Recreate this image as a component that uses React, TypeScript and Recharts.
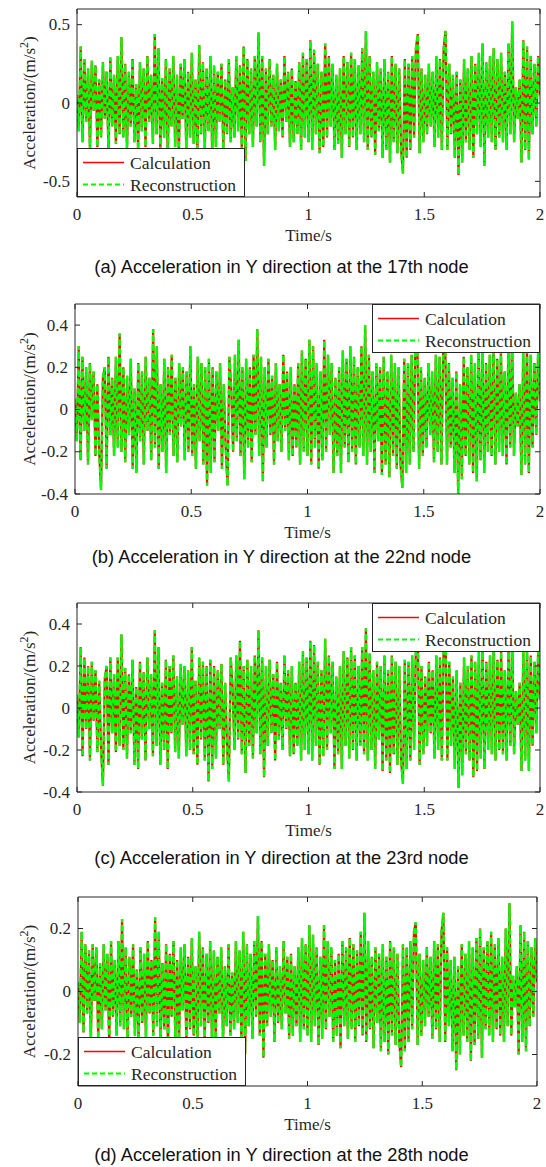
import React from 'react';
import { LineChart, Line, XAxis, YAxis, Legend } from 'recharts';

const SERIF = "'Times New Roman', 'Liberation Serif', Times, serif";
const SANS = "Arial, 'Liberation Sans', Helvetica, sans-serif";
const AXIS = '#262626';
const RED = '#ff0000';
const GREEN = '#00ff00';
const STEP = 0.008;

const timeTicks = [0, 0.5, 1, 1.5, 2];
const yTicksA = [-0.5, 0, 0.5];
const yTicksB = [-0.4, -0.2, 0, 0.2, 0.4];
const yTicksC = [-0.4, -0.2, 0, 0.2, 0.4];
const yTicksD = [-0.2, 0, 0.2];
const seriesNames = ['Calculation', 'Reconstruction'];
const captions = [
  '(a) Acceleration in Y direction at the 17th node',
  '(b) Acceleration in Y direction at the 22nd node',
  '(c) Acceleration in Y direction at the 23rd node',
  '(d) Acceleration in Y direction at the 28th node',
];

// node 17 (sampled every 0.008 s)
const calcA = [
  0.05, -0.18, 0.36, -0.25, 0.28, -0.12, 0.22, -0.3, 0.27, -0.05, 0.24, -0.28, 0.15, -0.22, 0.26, -0.1, 0.2, -0.32, 0.29, -0.15, 0.18, -0.26, 0.3, -0.2, 0.42,
  -0.22, 0.25, -0.3, 0.2, -0.15, 0.28, -0.25, 0.12, -0.3, 0.26, -0.18, 0.22, -0.28, 0.3, -0.12, 0.18, -0.26, 0.44, -0.2, 0.35, -0.3, 0.16, -0.22, 0.28, -0.34,
  0.22, -0.15, 0.3, -0.28, 0.18, -0.32, 0.25, -0.1, 0.28, -0.3, 0.2, -0.22, 0.32, -0.26, 0.15, -0.35, 0.37, -0.2, 0.26, -0.3, 0.22, -0.18, 0.3, -0.33, 0.24,
  -0.28, 0.2, -0.12, 0.25, -0.3, 0.15, -0.2, 0.28, -0.25, 0.1, -0.22, 0.3, -0.18, 0.24, -0.3, 0.36, -0.37, 0.28, -0.2, 0.22, -0.28, 0.3, -0.15, 0.45, -0.25,
  0.3, -0.4, 0.22, -0.2, 0.28, -0.15, 0.18, -0.3, 0.25, -0.18, 0.15, -0.22, 0.3, -0.12, 0.2, -0.28, 0.22, -0.25, 0.14, -0.2, 0.26, -0.3, 0.32, -0.22, 0.28,
  -0.25, 0.4, -0.3, 0.34, -0.2, 0.25, -0.32, 0.2, -0.28, 0.38, -0.22, 0.3, -0.15, 0.25, -0.3, 0.18, -0.26, 0.22, -0.35, 0.3, -0.2, 0.26, -0.28, 0.32, -0.22,
  0.28, -0.3, 0.24, -0.2, 0.35, -0.25, 0.46, -0.3, 0.3, -0.22, 0.2, -0.33, 0.26, -0.18, 0.22, -0.35, 0.28, -0.3, 0.2, -0.38, 0.3, -0.25, 0.25, -0.32, 0.22,
  -0.3, -0.45, 0.28, -0.35, 0.25, -0.3, 0.3, -0.22, 0.35, 0.44, -0.32, 0.22, -0.25, 0.18, -0.2, 0.25, -0.15, 0.2, -0.28, 0.3, -0.22, 0.28, -0.3, 0.35, 0.46,
  -0.3, 0.25, -0.2, 0.18, -0.35, 0.2, -0.46, 0.15, -0.38, 0.28, -0.25, 0.22, -0.3, 0.3, -0.35, 0.25, -0.2, 0.32, -0.28, 0.38, -0.4, 0.26, -0.22, 0.3, -0.25,
  0.35, -0.3, 0.28, -0.22, 0.32, -0.25, 0.2, -0.3, 0.38, -0.2, 0.52, -0.25, 0.1, -0.1, 0.15, -0.38, 0.4, -0.3, 0.36, -0.36, 0.3, -0.2, 0.25, -0.15, 0.3,
  0.05,
];
const reconA = calcA;

// node 22
const calcB = [
  0.05, -0.15, 0.3, -0.24, 0.25, -0.1, 0.2, -0.26, 0.22, -0.05, 0.18, -0.22, 0.12, -0.2, -0.38, 0.15, 0.2, -0.28, 0.25, -0.12, 0.15, -0.22, 0.25, -0.18, 0.36,
  -0.2, 0.2, -0.25, 0.16, -0.12, 0.24, -0.28, 0.1, -0.3, 0.22, -0.15, 0.18, -0.26, 0.25, -0.1, 0.15, -0.24, 0.38, -0.18, 0.3, -0.28, 0.12, -0.2, 0.24, -0.3,
  0.2, -0.12, 0.26, -0.22, 0.15, -0.25, 0.22, -0.08, 0.2, -0.24, 0.18, -0.2, 0.3, -0.22, 0.12, -0.28, 0.25, -0.15, 0.22, -0.26, 0.2, -0.36, 0.24, -0.3, 0.2,
  -0.25, 0.18, -0.1, 0.22, -0.28, 0.12, -0.18, -0.36, 0.25, 0.1, -0.2, 0.26, -0.15, 0.33, -0.22, 0.2, -0.33, 0.24, -0.18, 0.2, -0.25, 0.26, -0.12, 0.38, -0.22,
  0.25, -0.34, 0.2, -0.18, 0.24, -0.12, 0.16, -0.26, 0.22, -0.15, 0.12, -0.2, 0.26, -0.1, 0.18, -0.24, 0.2, -0.22, 0.12, -0.18, 0.22, -0.26, 0.28, -0.2, 0.24,
  -0.22, 0.33, -0.26, 0.3, -0.18, 0.22, -0.28, 0.18, -0.24, 0.33, -0.2, 0.26, -0.12, 0.22, -0.3, 0.15, -0.22, 0.2, -0.3, 0.28, -0.18, 0.24, -0.25, 0.3, -0.2,
  0.25, -0.26, 0.2, -0.18, 0.3, -0.22, 0.4, -0.26, 0.26, -0.2, 0.18, -0.3, 0.22, -0.15, 0.2, -0.31, 0.25, -0.26, 0.18, -0.32, 0.26, -0.22, 0.22, -0.28, 0.2,
  -0.26, -0.37, 0.24, -0.3, 0.22, -0.26, 0.26, -0.2, 0.3, 0.35, -0.28, 0.2, -0.22, 0.15, -0.18, 0.22, -0.12, 0.18, -0.25, 0.26, -0.2, 0.25, -0.26, 0.3, 0.34,
  -0.26, 0.22, -0.18, 0.15, -0.3, 0.18, -0.4, 0.12, -0.33, 0.25, -0.22, 0.2, -0.26, 0.26, -0.3, 0.22, -0.34, 0.28, -0.24, 0.3, -0.3, 0.22, -0.2, 0.26, -0.22,
  0.3, -0.26, 0.24, -0.2, 0.28, -0.22, 0.18, -0.26, 0.3, -0.18, 0.34, -0.22, 0.08, -0.08, 0.12, -0.31, 0.28, -0.26, 0.3, -0.3, 0.26, -0.18, 0.22, -0.12, 0.28,
  0.04,
];
const reconB = calcB;

// node 23
const calcC = [
  0.06, -0.14, 0.29, -0.23, 0.24, -0.1, 0.2, -0.25, 0.22, -0.06, 0.18, -0.21, 0.13, -0.2, -0.37, 0.14, 0.2, -0.27, 0.24, -0.12, 0.16, -0.21, 0.24, -0.18, 0.35,
  -0.2, 0.19, -0.24, 0.16, -0.12, 0.23, -0.27, 0.1, -0.29, 0.22, -0.15, 0.17, -0.25, 0.24, -0.1, 0.16, -0.23, 0.37, -0.18, 0.29, -0.27, 0.12, -0.2, 0.23, -0.29,
  0.2, -0.12, 0.25, -0.21, 0.15, -0.24, 0.21, -0.08, 0.2, -0.23, 0.18, -0.2, 0.29, -0.22, 0.13, -0.27, 0.24, -0.15, 0.22, -0.25, 0.2, -0.35, 0.23, -0.29, 0.2,
  -0.24, 0.18, -0.1, 0.21, -0.27, 0.12, -0.18, -0.35, 0.24, 0.1, -0.2, 0.25, -0.15, 0.32, -0.22, 0.2, -0.31, 0.23, -0.18, 0.2, -0.24, 0.25, -0.12, 0.37, -0.22,
  0.24, -0.33, 0.2, -0.18, 0.23, -0.12, 0.16, -0.25, 0.22, -0.15, 0.12, -0.2, 0.25, -0.1, 0.18, -0.23, 0.2, -0.22, 0.12, -0.18, 0.22, -0.25, 0.27, -0.2, 0.24,
  -0.22, 0.32, -0.25, 0.3, -0.18, 0.22, -0.27, 0.18, -0.23, 0.33, -0.2, 0.25, -0.12, 0.22, -0.29, 0.15, -0.22, 0.2, -0.29, 0.27, -0.18, 0.24, -0.24, 0.29, -0.2,
  0.25, -0.25, 0.2, -0.18, 0.29, -0.22, 0.38, -0.25, 0.26, -0.2, 0.18, -0.29, 0.22, -0.15, 0.2, -0.3, 0.25, -0.25, 0.18, -0.31, 0.25, -0.22, 0.22, -0.27, 0.2,
  -0.25, -0.36, 0.23, -0.29, 0.22, -0.25, 0.25, -0.2, 0.29, 0.34, -0.27, 0.2, -0.22, 0.15, -0.18, 0.22, -0.12, 0.18, -0.24, 0.25, -0.2, 0.24, -0.25, 0.29, 0.33,
  -0.25, 0.22, -0.18, 0.15, -0.29, 0.18, -0.38, 0.12, -0.32, 0.24, -0.22, 0.2, -0.25, 0.25, -0.33, 0.22, -0.3, 0.27, -0.24, 0.29, -0.29, 0.22, -0.2, 0.25, -0.22,
  0.29, -0.25, 0.23, -0.2, 0.27, -0.22, 0.18, -0.25, 0.29, -0.18, 0.33, -0.22, 0.08, -0.08, 0.12, -0.3, 0.27, -0.25, 0.29, -0.3, 0.25, -0.18, 0.22, -0.12, 0.27,
  0.04,
];
const reconC = calcC;

// node 28
const calcD = [
  0.03, -0.1, 0.19, -0.13, 0.15, -0.07, 0.13, -0.16, 0.15, -0.03, 0.14, -0.15, 0.09, -0.12, 0.15, -0.06, 0.12, -0.17, 0.16, -0.08, 0.1, -0.14, 0.16, -0.11, 0.23,
  -0.12, 0.14, -0.16, 0.11, -0.08, 0.15, -0.14, 0.07, -0.16, 0.14, -0.1, 0.12, -0.15, 0.16, -0.07, 0.1, -0.14, 0.235, -0.11, 0.19, -0.16, 0.09, -0.12, 0.15, -0.18,
  0.12, -0.08, 0.16, -0.15, 0.1, -0.17, 0.14, -0.06, 0.15, -0.16, 0.11, -0.12, 0.17, -0.14, 0.08, -0.18, 0.19, -0.11, 0.14, -0.16, 0.12, -0.1, 0.16, -0.17, 0.13,
  -0.15, 0.11, -0.07, 0.14, -0.16, 0.08, -0.11, 0.15, -0.14, 0.06, -0.12, 0.16, -0.1, 0.13, -0.16, 0.19, -0.2, 0.15, -0.11, 0.12, -0.15, 0.16, -0.08, 0.24, -0.14,
  0.16, -0.21, 0.12, -0.11, 0.15, -0.08, 0.1, -0.16, 0.14, -0.1, 0.08, -0.12, 0.16, -0.07, 0.11, -0.15, 0.12, -0.14, 0.08, -0.11, 0.14, -0.16, 0.17, -0.12, 0.15,
  -0.14, 0.21, -0.16, 0.18, -0.11, 0.14, -0.17, 0.11, -0.15, 0.21, -0.12, 0.16, -0.08, 0.14, -0.16, 0.1, -0.14, 0.12, -0.18, 0.16, -0.11, 0.14, -0.15, 0.17, -0.12,
  0.15, -0.16, 0.13, -0.11, 0.19, -0.14, 0.25, -0.16, 0.16, -0.12, 0.11, -0.18, 0.14, -0.1, 0.12, -0.19, 0.15, -0.16, 0.11, -0.2, 0.16, -0.14, 0.14, -0.17, 0.12,
  -0.16, -0.24, 0.15, -0.19, 0.14, -0.16, 0.16, -0.12, 0.19, 0.22, -0.17, 0.12, -0.14, 0.1, -0.11, 0.14, -0.08, 0.11, -0.15, 0.16, -0.12, 0.15, -0.16, 0.19, 0.25,
  -0.16, 0.14, -0.11, 0.1, -0.19, 0.11, -0.25, 0.08, -0.2, 0.15, -0.14, 0.12, -0.16, 0.16, -0.22, 0.14, -0.17, 0.17, -0.15, 0.2, -0.21, 0.14, -0.12, 0.16, -0.14,
  0.19, -0.16, 0.15, -0.12, 0.17, -0.14, 0.11, -0.16, 0.2, -0.11, 0.28, -0.14, 0.05, -0.05, 0.08, -0.2, 0.21, -0.16, 0.19, -0.19, 0.16, -0.11, 0.14, -0.08, 0.17,
  0.03,
];
const reconD = calcD;

function buildRows(calc: number[], recon: number[]) {
  return calc.map((v, i) => ({ t: Math.round(i * STEP * 1000) / 1000, calc: v, recon: recon[i] }));
}

const BottomTick = (props: any) => {
  const { x, y, payload } = props;
  return (
    <g>
      <line x1={x} x2={x} y1={y} y2={y - 5} stroke={AXIS} strokeWidth={1} />
      <text x={x} y={y + 23} textAnchor="middle" fontSize={17} fontFamily={SERIF} fill={AXIS}>
        {String(payload.value)}
      </text>
    </g>
  );
};
const TopTick = (props: any) => {
  const { x, y } = props;
  return <line x1={x} x2={x} y1={y} y2={y + 5} stroke={AXIS} strokeWidth={1} />;
};
const LeftTick = (props: any) => {
  const { x, y, payload } = props;
  return (
    <g>
      <line x1={x} x2={x + 5} y1={y} y2={y} stroke={AXIS} strokeWidth={1} />
      <text x={x - 7} y={y + 5.5} textAnchor="end" fontSize={17} fontFamily={SERIF} fill={AXIS}>
        {String(payload.value)}
      </text>
    </g>
  );
};
const RightTick = (props: any) => {
  const { x, y } = props;
  return <line x1={x} x2={x - 5} y1={y} y2={y} stroke={AXIS} strokeWidth={1} />;
};

const TimeLabel = (props: any) => {
  const vb = props.viewBox || {};
  return (
    <text x={vb.x + vb.width / 2} y={vb.y + 44} textAnchor="middle" fontSize={17} fontFamily={SERIF} fill={AXIS}>
      Time/s
    </text>
  );
};
const YLabel = (props: any) => {
  const vb = props.viewBox || {};
  const cx = 35;
  const cy = vb.y + vb.height / 2;
  return (
    <text x={cx} y={cy} transform={`rotate(-90, ${cx}, ${cy})`} textAnchor="middle" fontSize={17} fontFamily={SERIF} fill={AXIS}>
      Acceleration/(m/s
      <tspan dy={-7} fontSize={12}>2</tspan>
      <tspan dy={7}>)</tspan>
    </text>
  );
};

const LegendBox = ({ width, height }: { width: number; height: number }) => (
  <svg width={width} height={height} style={{ display: 'block' }}>
    <rect x={0.5} y={0.5} width={width - 1} height={height - 1} fill="#fff" stroke={AXIS} strokeWidth={1} />
    <line x1={6} x2={47} y1={14.5} y2={14.5} stroke={RED} strokeWidth={1.6} />
    <text x={53} y={20.5} fontSize={17.5} fontFamily={SERIF} fill={AXIS}>{seriesNames[0]}</text>
    <line x1={6} x2={47} y1={36.5} y2={36.5} stroke={GREEN} strokeWidth={1.8} strokeDasharray="5 3" />
    <text x={53} y={42.5} fontSize={17.5} fontFamily={SERIF} fill={AXIS}>{seriesNames[1]}</text>
  </svg>
);

type PanelProps = {
  top: number;
  height: number;
  plot: { top: number; bottom: number; left: number; right: number };
  domain: [number, number];
  yTicks: number[];
  rows: any[];
  legendPos: { left: number; top: number };
  caption: string;
  captionY: number;
};

// axes are 1px thick areas so Recharts renders them; margins compensate
const Panel = ({ top, height, plot, domain, yTicks, rows, legendPos, caption, captionY }: PanelProps) => (
  <div style={{ position: 'absolute', left: 0, top, width: 546, height }}>
    <LineChart
      width={546}
      height={height}
      data={rows}
      margin={{ top: plot.top - 1, bottom: height - plot.bottom - 1, left: plot.left - 1, right: 546 - plot.right - 1 }}
    >
      <XAxis
        xAxisId="b"
        dataKey="t"
        type="number"
        domain={[0, 2]}
        ticks={timeTicks}
        interval={0}
        height={1}
        tickSize={0}
        tickMargin={0}
        tickLine={false}
        axisLine={{ stroke: AXIS, strokeWidth: 1 }}
        tick={BottomTick}
        label={{ content: TimeLabel } as any}
        allowDataOverflow
      />
      <XAxis
        xAxisId="t"
        orientation="top"
        dataKey="t"
        type="number"
        domain={[0, 2]}
        ticks={timeTicks}
        interval={0}
        height={1}
        tickSize={0}
        tickMargin={0}
        tickLine={false}
        axisLine={{ stroke: AXIS, strokeWidth: 1 }}
        tick={TopTick}
        allowDataOverflow
      />
      <YAxis
        yAxisId="l"
        type="number"
        domain={domain}
        ticks={yTicks}
        interval={0}
        width={1}
        tickSize={0}
        tickMargin={0}
        tickLine={false}
        axisLine={{ stroke: AXIS, strokeWidth: 1 }}
        tick={LeftTick}
        label={{ content: YLabel } as any}
        allowDataOverflow
      />
      <YAxis
        yAxisId="r"
        orientation="right"
        type="number"
        domain={domain}
        ticks={yTicks}
        interval={0}
        width={1}
        tickSize={0}
        tickMargin={0}
        tickLine={false}
        axisLine={{ stroke: AXIS, strokeWidth: 1 }}
        tick={RightTick}
        allowDataOverflow
      />
      <Line xAxisId="b" yAxisId="l" type="linear" dataKey="calc" name={seriesNames[0]} stroke={RED} strokeWidth={2.2} dot={false} activeDot={false} isAnimationActive={false} />
      <Line xAxisId="b" yAxisId="l" type="linear" dataKey="recon" name={seriesNames[1]} stroke={GREEN} strokeWidth={2.4} strokeDasharray="6 3" dot={false} activeDot={false} isAnimationActive={false} />
      <Legend
        layout="horizontal"
        verticalAlign="middle"
        align="center"
        wrapperStyle={{ position: 'absolute', left: legendPos.left, top: legendPos.top, width: 168, height: 49, margin: 0, padding: 0 }}
        content={() => <LegendBox width={168} height={49} />}
      />
    </LineChart>
    <svg width={546} height={height} style={{ position: 'absolute', left: 0, top: 0, pointerEvents: 'none' }}>
      <text x={281.5} y={captionY} textAnchor="middle" fontSize={18.3} fontFamily={SANS} fill="#111">
        {caption}
      </text>
    </svg>
  </div>
);

export default function App() {
  return (
    <div style={{ position: 'absolute', left: 0, top: 0, width: 546, height: 1167, background: '#fff', overflow: 'hidden' }}>
      <Panel
        top={0}
        height={290}
        plot={{ top: 9, bottom: 197, left: 77, right: 540 }}
        domain={[-0.6, 0.6]}
        yTicks={yTicksA}
        rows={buildRows(calcA, reconA)}
        legendPos={{ left: 77, top: 148 }}
        caption={captions[0]}
        captionY={273}
      />
      <Panel
        top={290}
        height={290}
        plot={{ top: 14, bottom: 204, left: 75, right: 540 }}
        domain={[-0.4, 0.5]}
        yTicks={yTicksB}
        rows={buildRows(calcB, reconB)}
        legendPos={{ left: 372, top: 14 }}
        caption={captions[1]}
        captionY={273}
      />
      <Panel
        top={580}
        height={290}
        plot={{ top: 23, bottom: 212, left: 77, right: 540 }}
        domain={[-0.4, 0.5]}
        yTicks={yTicksC}
        rows={buildRows(calcC, reconC)}
        legendPos={{ left: 372, top: 23 }}
        caption={captions[2]}
        captionY={284}
      />
      <Panel
        top={870}
        height={297}
        plot={{ top: 27, bottom: 216, left: 78, right: 537 }}
        domain={[-0.3, 0.3]}
        yTicks={yTicksD}
        rows={buildRows(calcD, reconD)}
        legendPos={{ left: 78, top: 167 }}
        caption={captions[3]}
        captionY={291}
      />
    </div>
  );
}
